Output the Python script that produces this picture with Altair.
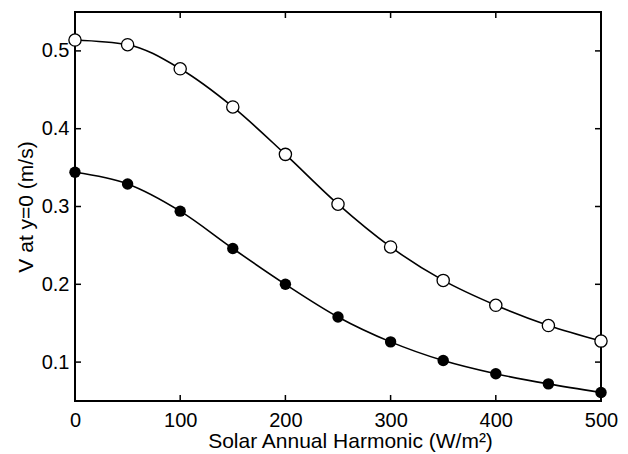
import altair as alt
import pandas as pd

x_vals = [0, 50, 100, 150, 200, 250, 300, 350, 400, 450, 500]
open_vals = [0.514, 0.508, 0.477, 0.428, 0.367, 0.303, 0.248, 0.205, 0.173, 0.147, 0.127]
filled_vals = [0.344, 0.329, 0.294, 0.246, 0.200, 0.158, 0.126, 0.102, 0.085, 0.072, 0.061]
x_ticks = [0, 100, 200, 300, 400, 500]
y_ticks = [0.1, 0.2, 0.3, 0.4, 0.5]

W, H = 526, 389
FONT = "Liberation Sans"
FS = 20

df = pd.DataFrame({
    "x": x_vals * 2,
    "y": open_vals + filled_vals,
    "series": ["open"] * len(x_vals) + ["filled"] * len(x_vals),
})
df_open = df[df.series == "open"]
df_filled = df[df.series == "filled"]
xt = pd.DataFrame({"x": x_ticks})
yt = pd.DataFrame({"y": y_ticks})

xs = alt.Scale(domain=[0, 500], nice=False, zero=False)
ys = alt.Scale(domain=[0.05, 0.55], nice=False, zero=False)

xaxis = alt.Axis(values=x_ticks, title="Solar Annual Harmonic (W/m²)", tickSize=0,
                 domain=False, grid=False, labelPadding=9, titlePadding=0, labelFlush=False,
                 labelFontSize=FS, titleFontSize=21, labelFont=FONT, titleFont=FONT,
                 titleX=275,
                 labelColor="black", titleColor="black", titleFontWeight="normal")
yaxis = alt.Axis(values=y_ticks, format=".1f", title="V at y=0 (m/s)", tickSize=0,
                 domain=False, grid=False, labelPadding=6, titlePadding=5, labelFlush=False,
                 labelFontSize=FS, titleFontSize=21, labelFont=FONT, titleFont=FONT,
                 labelColor="black", titleColor="black", titleFontWeight="normal")

X = alt.X("x:Q", scale=xs, axis=xaxis)
Y = alt.Y("y:Q", scale=ys, axis=yaxis)

lines = alt.Chart(df).mark_line(interpolate="monotone", color="black", strokeWidth=1.6).encode(
    x=X, y=Y, detail="series:N")
pts_open_bg = alt.Chart(df_open).mark_point(shape="circle", filled=True, size=140,
                                             color="white", opacity=1).encode(x=X, y=Y)
pts_open = alt.Chart(df_open).mark_point(shape="circle", filled=False, size=150,
                                          color="black", strokeWidth=1.3, opacity=1).encode(x=X, y=Y)
pts_filled = alt.Chart(df_filled).mark_point(shape="circle", filled=True, size=130,
                                              color="black", opacity=1).encode(x=X, y=Y)

tick_bottom = alt.Chart(xt).mark_rule(color="black", strokeWidth=1.5).encode(
    x=X, y=alt.value(H), y2=alt.value(H - 6))
tick_top = alt.Chart(xt).mark_rule(color="black", strokeWidth=1.5).encode(
    x=X, y=alt.value(0), y2=alt.value(6))
tick_left = alt.Chart(yt).mark_rule(color="black", strokeWidth=1.5).encode(
    y=Y, x=alt.value(0), x2=alt.value(6))
tick_right = alt.Chart(yt).mark_rule(color="black", strokeWidth=1.5).encode(
    y=Y, x=alt.value(W), x2=alt.value(W - 6))

chart = alt.layer(lines, tick_bottom, tick_top, tick_left, tick_right,
                  pts_open_bg, pts_open, pts_filled).properties(
    width=W, height=H,
    autosize=alt.AutoSizeParams(type="none"),
    padding={"left": 67, "top": 4, "right": 19, "bottom": 53},
    background="white",
).configure_view(stroke="black", strokeWidth=2)

chart.save("out.html", embed_options={"renderer": "svg", "actions": False})
